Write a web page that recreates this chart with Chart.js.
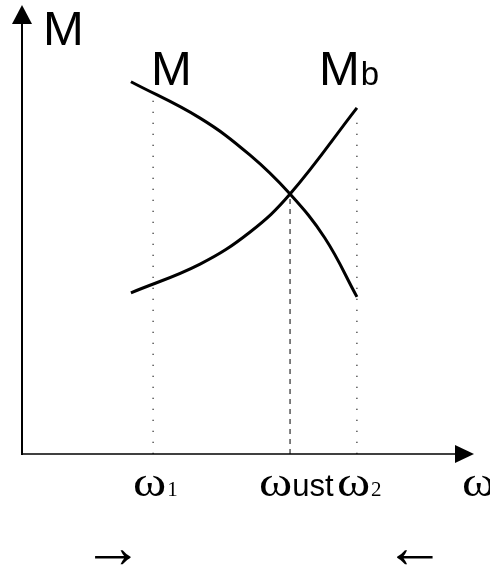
<!DOCTYPE html>
<html>
<head>
<meta charset="utf-8">
<script src="https://cdn.jsdelivr.net/npm/chart.js@4.4.0/dist/chart.umd.min.js"></script>
<style>
  html, body { margin: 0; padding: 0; background: #fff; }
  #wrap { width: 490px; height: 571px; }
</style>
</head>
<body>
<div id="wrap"><canvas id="chart" width="490" height="571"></canvas></div>
<script>
// omega on x, torque on y, both in arbitrary units (0..10)
const omegaM   = [2.41, 3.94, 5.04, 5.93, 6.70, 7.41];
const torqueM  = [8.29, 7.48, 6.66, 5.79, 4.81, 3.50];
const omegaMb  = [2.41, 3.94, 5.04, 5.93, 7.41];
const torqueMb = [3.59, 4.23, 4.94, 5.79, 7.71];

// marked speeds: w1, w_ust, w2 and how high their guide lines reach
const markOmega = [2.90, 5.93, 7.41];
const markTop   = [7.88, 5.79, 7.44];
const markSub   = ['1', 'ust', '2'];

const axisMax = 10;
const curveNames = ['M', 'Mb'];
const yAxisName = 'M';
const xAxisName = 'ω';
const dirArrows = ['→', '←'];

const toPoints = (xs, ys) => xs.map((x, i) => ({ x: x, y: ys[i] }));

// guide lines from the axis up to the curves
const guideSets = markOmega.map((w, i) => ({
    data: [{ x: w, y: 0 }, { x: w, y: markTop[i] }],
    borderColor: '#000',
    borderWidth: 1,
    borderDash: i === 1 ? [5, 5] : [1.3, 9.7],
    pointRadius: 0,
    tension: 0
}));

const curveStyle = {
    borderColor: '#000',
    borderWidth: 3,
    pointRadius: 0,
    tension: 0.4,
    fill: false
};

function drawOmega(ctx, x, baseline) {
    ctx.save();
    ctx.translate(x, baseline);
    ctx.scale(1.2, 1);
    ctx.font = '42px "Liberation Serif"';
    ctx.textAlign = 'left';
    ctx.fillText(xAxisName, 0, 0);
    const w = ctx.measureText(xAxisName).width * 1.2;
    ctx.restore();
    return w;
}

const sketchAxes = {
    id: 'sketchAxes',
    afterDatasetsDraw(chart) {
        const ctx = chart.ctx, xs = chart.scales.x, ys = chart.scales.y;
        const x0 = xs.getPixelForValue(0), y0 = ys.getPixelForValue(0);
        const xEnd = xs.getPixelForValue(axisMax), yEnd = ys.getPixelForValue(axisMax);
        ctx.save();
        ctx.fillStyle = '#000';
        ctx.strokeStyle = '#000';

        // y axis + arrow head
        ctx.lineWidth = 2;
        ctx.beginPath(); ctx.moveTo(x0, y0 + 1); ctx.lineTo(x0, yEnd + 16); ctx.stroke();
        ctx.beginPath(); ctx.moveTo(x0, yEnd); ctx.lineTo(x0 - 10, yEnd + 19); ctx.lineTo(x0 + 10, yEnd + 19); ctx.closePath(); ctx.fill();

        // x axis + arrow head
        ctx.lineWidth = 1.6;
        ctx.beginPath(); ctx.moveTo(x0, y0); ctx.lineTo(xEnd - 16, y0); ctx.stroke();
        ctx.beginPath(); ctx.moveTo(xEnd, y0); ctx.lineTo(xEnd - 19, y0 - 9); ctx.lineTo(xEnd - 19, y0 + 9); ctx.closePath(); ctx.fill();

        // big labels
        ctx.textBaseline = 'alphabetic';
        ctx.textAlign = 'left';
        ctx.font = '49px "Liberation Sans", Arial';
        ctx.fillText(yAxisName, x0 + 21, yEnd + 40);
        ctx.fillText(curveNames[0], xs.getPixelForValue(omegaM[0]) + 20, yEnd + 80);
        const mbX = xs.getPixelForValue(omegaMb[omegaMb.length - 1]) - 38;
        ctx.fillText(curveNames[1].charAt(0), mbX, yEnd + 80);
        const mW = ctx.measureText(curveNames[1].charAt(0)).width;
        ctx.font = '33px "Liberation Sans", Arial';
        ctx.fillText(curveNames[1].slice(1), mbX + mW + 1, yEnd + 80);

        // omega marks under the axis
        const base = y0 + 42;
        markOmega.forEach((w, i) => {
            const px = xs.getPixelForValue(w);
            const left = i === 1 ? px - 31 : px - 20;
            const ow = drawOmega(ctx, left, base);
            if (markSub[i] === 'ust') {
                ctx.font = '31px "Liberation Sans", Arial';
                ctx.fillText(markSub[i], left + ow, base);
            } else {
                ctx.font = '21px "Liberation Serif"';
                ctx.fillText(markSub[i], left + ow + 1, base);
            }
        });
        drawOmega(ctx, xEnd - 12, base);

        // direction arrows
        ctx.textAlign = 'center';
        ctx.textBaseline = 'middle';
        ctx.font = '60px "Liberation Serif", "DejaVu Serif"';
        ctx.fillText(dirArrows[0], xs.getPixelForValue(markOmega[0]) - 40, y0 + 97);
        ctx.fillText(dirArrows[1], xs.getPixelForValue(markOmega[2]) + 58, y0 + 97);
        ctx.restore();
    }
};

new Chart(document.getElementById('chart'), {
    type: 'line',
    data: {
        datasets: [
            ...guideSets,
            Object.assign({ label: curveNames[0], data: toPoints(omegaM, torqueM) }, curveStyle),
            Object.assign({ label: curveNames[1], data: toPoints(omegaMb, torqueMb) }, curveStyle)
        ]
    },
    options: {
        responsive: false,
        animation: false,
        layout: { padding: { left: 22, right: 16, top: 5, bottom: 117 } },
        plugins: { legend: { display: false }, tooltip: { enabled: false } },
        scales: {
            x: { type: 'linear', min: 0, max: axisMax, display: false },
            y: { type: 'linear', min: 0, max: axisMax, display: false }
        }
    },
    plugins: [sketchAxes]
});
</script>
</body>
</html>
